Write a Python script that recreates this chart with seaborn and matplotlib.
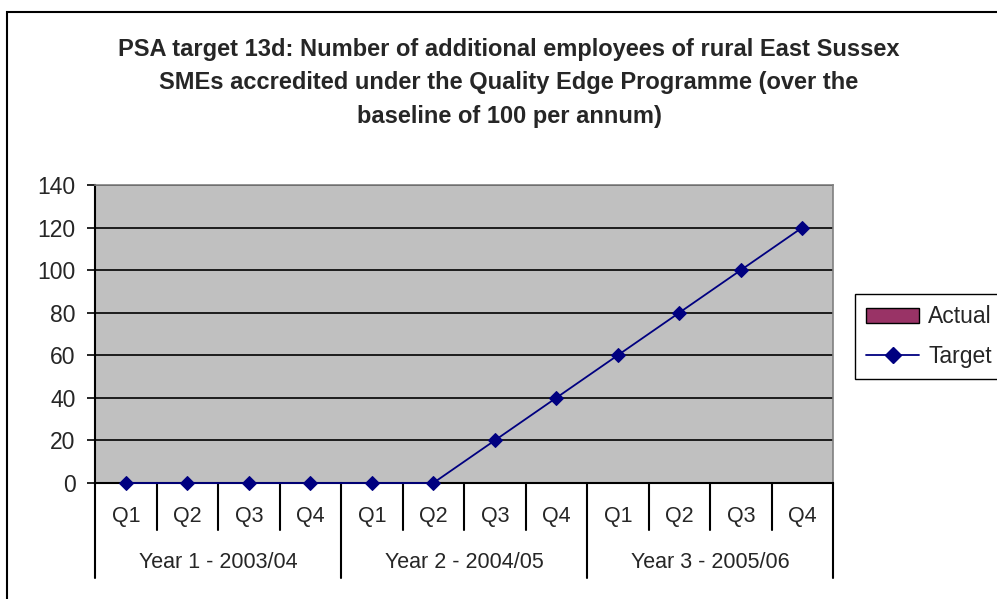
import numpy as np
import pandas as pd
import matplotlib
matplotlib.use("Agg")
import matplotlib.pyplot as plt
import seaborn as sns
from matplotlib.patches import Patch, Rectangle
from matplotlib.lines import Line2D

quarters = ["Q1", "Q2", "Q3", "Q4"] * 3
years = ["Year 1 - 2003/04", "Year 2 - 2004/05", "Year 3 - 2005/06"]
actual = [np.nan] * 12
target = [0, 0, 0, 0, 0, 0, 20, 40, 60, 80, 100, 120]
title = ("PSA target 13d: Number of additional employees of rural East Sussex\n"
         "SMEs accredited under the Quality Edge Programme (over the\n"
         "baseline of 100 per annum)")

df = pd.DataFrame({"pos": range(12), "quarter": quarters, "actual": actual, "target": target})

sns.set_style("white")
plt.rcParams["font.family"] = ["Liberation Sans", "DejaVu Sans"]

fig = plt.figure(figsize=(9.97, 5.99), dpi=100)
ax = fig.add_axes([95/997, 1-483/599, (833-95)/997, (483-185)/599])
ax.set_facecolor("#c0c0c0")

# actual (no data yet) + target line
ax.bar(df["pos"], df["actual"].fillna(0), color="#993366", edgecolor="black", width=0.5)
sns.lineplot(data=df, x="pos", y="target", ax=ax, color="#000080", marker="D",
             markersize=7, markeredgecolor="#000080", linewidth=1.3, zorder=5, clip_on=False)

ax.set_xlim(-0.5, 11.5)
ax.set_ylim(0, 140)
ax.set_yticks(range(0, 141, 20))
ax.yaxis.grid(True, color="black", linewidth=1.2)
ax.set_axisbelow(True)
ax.tick_params(axis="y", left=True, length=6, width=1.2, color="black", labelsize=16.5, pad=8)
ax.set_xticks([])
ax.set_xlabel("")
ax.set_ylabel("")
for s in ["top", "right"]:
    ax.spines[s].set_color("#808080")
    ax.spines[s].set_linewidth(1.2)
ax.spines["left"].set_color("black")
ax.spines["bottom"].set_color("black")
ax.spines["left"].set_linewidth(1.5)
ax.spines["bottom"].set_linewidth(1.5)

# two level category axis
tr = ax.get_xaxis_transform()
for i, q in enumerate(quarters):
    ax.text(i, -0.111, q, transform=tr, ha="center", va="center", fontsize=15.5)
for j, y in enumerate(years):
    ax.text(j*4 + 1.5, -0.268, y, transform=tr, ha="center", va="center", fontsize=15.5)
for b in np.arange(-0.5, 12, 1.0):
    low = -0.319 if (b + 0.5) % 4 == 0 else -0.158
    ax.plot([b, b], [0, low], transform=tr, color="black", lw=1.5, clip_on=False)

handles = [Patch(facecolor="#993366", edgecolor="black", label="Actual"),
           Line2D([0], [0], color="#000080", marker="D", markersize=8, lw=1.3, label="Target")]
fig.legend(handles=handles, loc="upper left", bbox_to_anchor=(855/997, 1-294/599),
           bbox_transform=fig.transFigure, frameon=True, fancybox=False, edgecolor="black",
           fontsize=16.5, handlelength=2.3, handleheight=0.6, handletextpad=0.4,
           borderpad=0.5, labelspacing=0.7, framealpha=1, borderaxespad=0)

fig.text(509/997, 1-83/599, title, ha="center", va="center", fontsize=17,
         fontweight="bold", linespacing=1.58)

fig.patches.append(Rectangle((7/997, -0.1), 1.2, 1.1 - 12/599, transform=fig.transFigure,
                             fill=False, edgecolor="black", linewidth=1.5))

fig.savefig("out.png", dpi=100)
